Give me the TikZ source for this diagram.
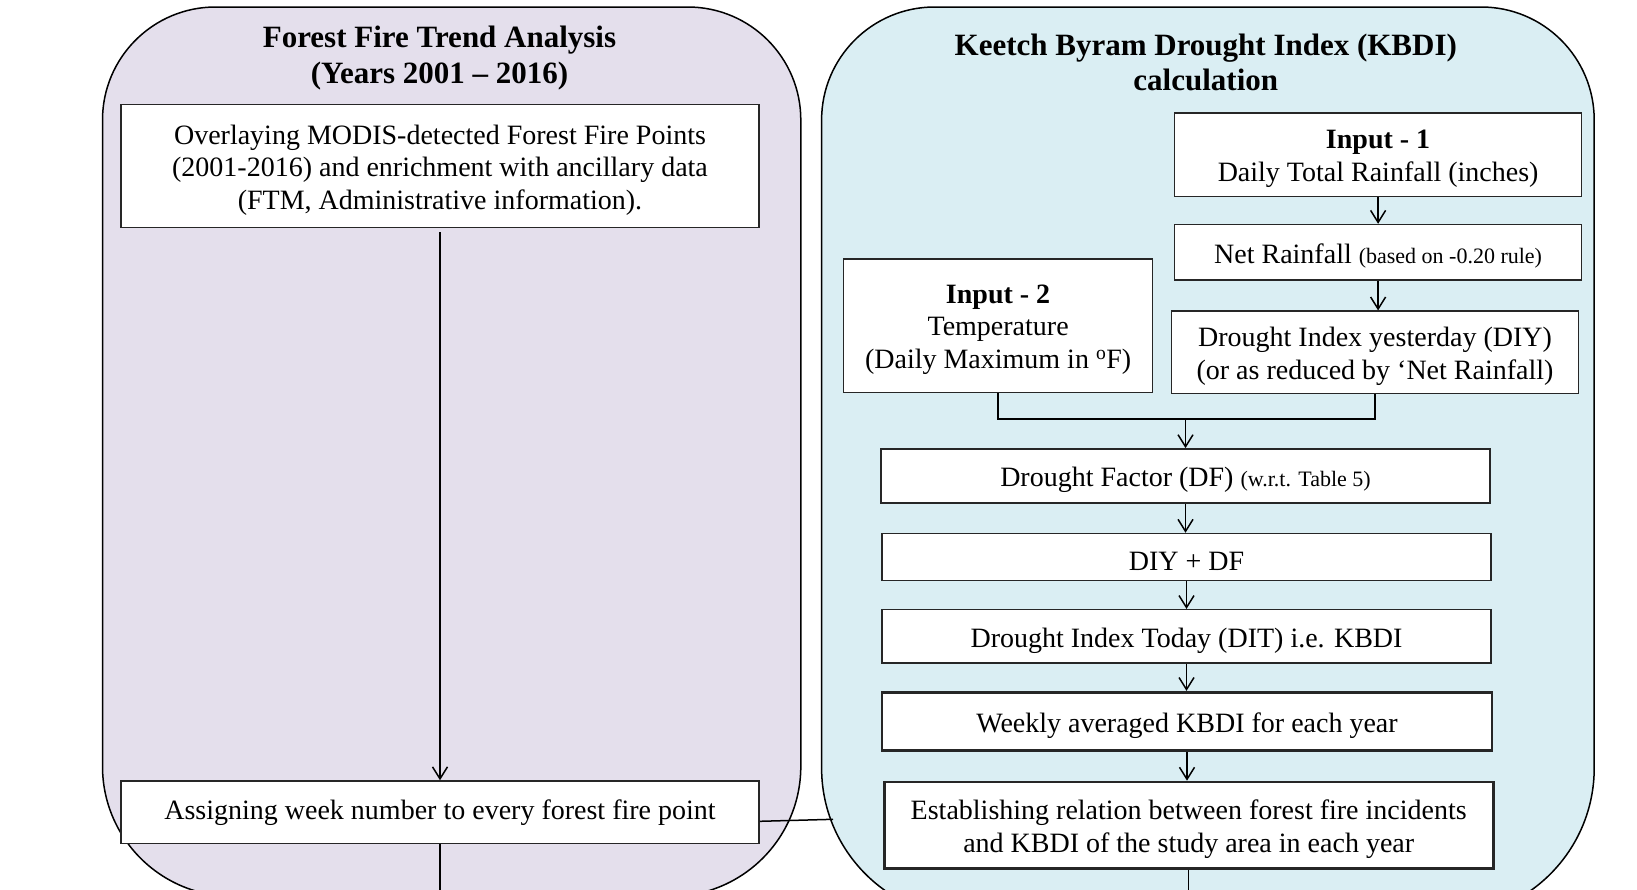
\documentclass[tikz,border=0pt]{standalone}
\usepackage{fontspec}
\setmainfont{Liberation Serif}
\usetikzlibrary{arrows.meta}
\definecolor{lav}{HTML}{E4DFEC}
\definecolor{aqua}{HTML}{DAEEF3}
\newcommand{\bodyfont}{\fontsize{28}{32.5}\selectfont}
\newcommand{\smallnote}{\fontsize{22}{26}\selectfont}
\tikzset{
  panel/.style={draw=black, line width=1.5pt},
  box/.style={draw=black!85, fill=white, line width=1.5pt, inner sep=0pt},
  thickbox/.style={box, line width=2.6pt},
  boxtext/.style={align=center, inner sep=0pt, font=\bodyfont},
  heading/.style={align=center, font=\fontsize{31}{35.5}\selectfont\bfseries},
  link/.style={line width=1.5pt},
  arr/.style={link, -{Straight Barb[length=12pt,width=15pt,line width=1.5pt]}}
}
% a framed box with its text set slightly below the geometric centre
% #1 style, #2 name, #3 size options, #4 centre, #5 text
\newcommand{\flowbox}[5][box]{%
  \node[#1, #3] (#2) at (#4) {};
  \node[boxtext] (#2-text) at ([yshift=-4pt]#2.center) {#5};}
% a panel: top corners of radius #5, bottom corners of radius #6
% #1 left, #2 right, #3 top, #4 bottom
\newcommand{\panelpath}[6]{%
  (#1,#3+#5) arc[start angle=180, end angle=270, radius=#5]
  -- (#2-#5,#3) arc[start angle=270, end angle=360, radius=#5]
  -- (#2,#4-#6) arc[start angle=0, end angle=90, radius=#6]
  -- (#1+#6,#4) arc[start angle=90, end angle=180, radius=#6] -- cycle}
\begin{document}
\begin{tikzpicture}[x=1pt,y=-1pt]
\clip (0,0) rectangle (1637,889);
\fill[white] (0,0) rectangle (1637,889);

% the two panels
\filldraw[panel, fill=lav] \panelpath{102.5}{800.8}{7}{896.3}{113}{130};
\filldraw[panel, fill=aqua] \panelpath{821.6}{1594.2}{7}{918}{113}{150};

\node[heading] (trendtitle) at (439.5,58) {Forest Fire Trend Analysis\\(Years 2001 -- 2016)};
\node[heading] (kbdititle) at (1205.8,62.6) {Keetch Byram Drought Index (KBDI)\\calculation};

% fire trend branch
\flowbox{overlay}{minimum width=638pt, minimum height=123pt}{440,166}
  {Overlaying MODIS-detected Forest Fire Points\\(2001-2016) and enrichment with ancillary data\\(FTM, Administrative information).}
\node[box, minimum width=638pt, minimum height=62.6pt] (week) at (440,812.3) {};
\node[boxtext] (week-text) at (week.center) {Assigning week number to every forest fire point};

% KBDI branch
\flowbox{in1}{minimum width=407pt, minimum height=83.5pt}{1378.1,154.6}
  {\textbf{Input - 1}\\Daily Total Rainfall (inches)}
\flowbox{netrain}{minimum width=407pt, minimum height=55.3pt}{1378.1,252.2}
  {Net Rainfall {\smallnote(based on -0.20 rule)}}
\flowbox{diy}{minimum width=407pt, minimum height=82.5pt}{1375,352.4}
  {Drought Index yesterday (DIY)\\(or as reduced by ‘Net Rainfall)}
\flowbox{in2}{minimum width=309pt, minimum height=133.6pt}{998.1,325.7}
  {\textbf{Input - 2}\\Temperature\\(Daily Maximum in \textsuperscript{o}F)}
\flowbox{df}{minimum width=609pt, minimum height=54.3pt}{1185.5,476}
  {Drought Factor (DF) {\smallnote(w.r.t. Table 5)}}
\flowbox{sum}{minimum width=609pt, minimum height=47pt}{1186.5,557}
  {DIY + DF}
\flowbox{dit}{minimum width=609pt, minimum height=53.2pt}{1186.5,636.3}
  {Drought Index Today (DIT) i.e. KBDI}
\flowbox[thickbox]{weekly}{minimum width=610pt, minimum height=58.4pt}{1187,721.4}
  {Weekly averaged KBDI for each year}
\flowbox[thickbox]{relate}{minimum width=609pt, minimum height=86.6pt}{1188.7,825.3}
  {Establishing relation between forest fire incidents\\and KBDI of the study area in each year}

% connectors
\coordinate (join) at (1185.5,419);
\coordinate (trendout) at (440,900);
\coordinate (kbdiout) at (1188.7,900);
\coordinate (panelside) at (833,819.3);

\draw[arr, shorten <=4pt] (overlay.south) -- (week.north);
\draw[link] (week.south) -- (trendout);
\draw[link] ([yshift=-9pt]week.east) -- (panelside);

\draw[arr] (in1.south) -- (netrain.north);
\draw[arr] (netrain.south) -- (netrain.south |- diy.north);
\draw[link] (in2.south) |- (diy.south |- join) -- (diy.south);
\draw[arr] (join) -- (df.north);
\draw[arr] (df.south) -- (df.south |- sum.north);
\draw[arr] (sum.south) -- (sum.south |- dit.north);
\draw[arr] (dit.south) -- (dit.south |- weekly.north);
\draw[arr] (weekly.south) -- (weekly.south |- relate.north);
\draw[link] (relate.south) -- (kbdiout);
\end{tikzpicture}
\end{document}
